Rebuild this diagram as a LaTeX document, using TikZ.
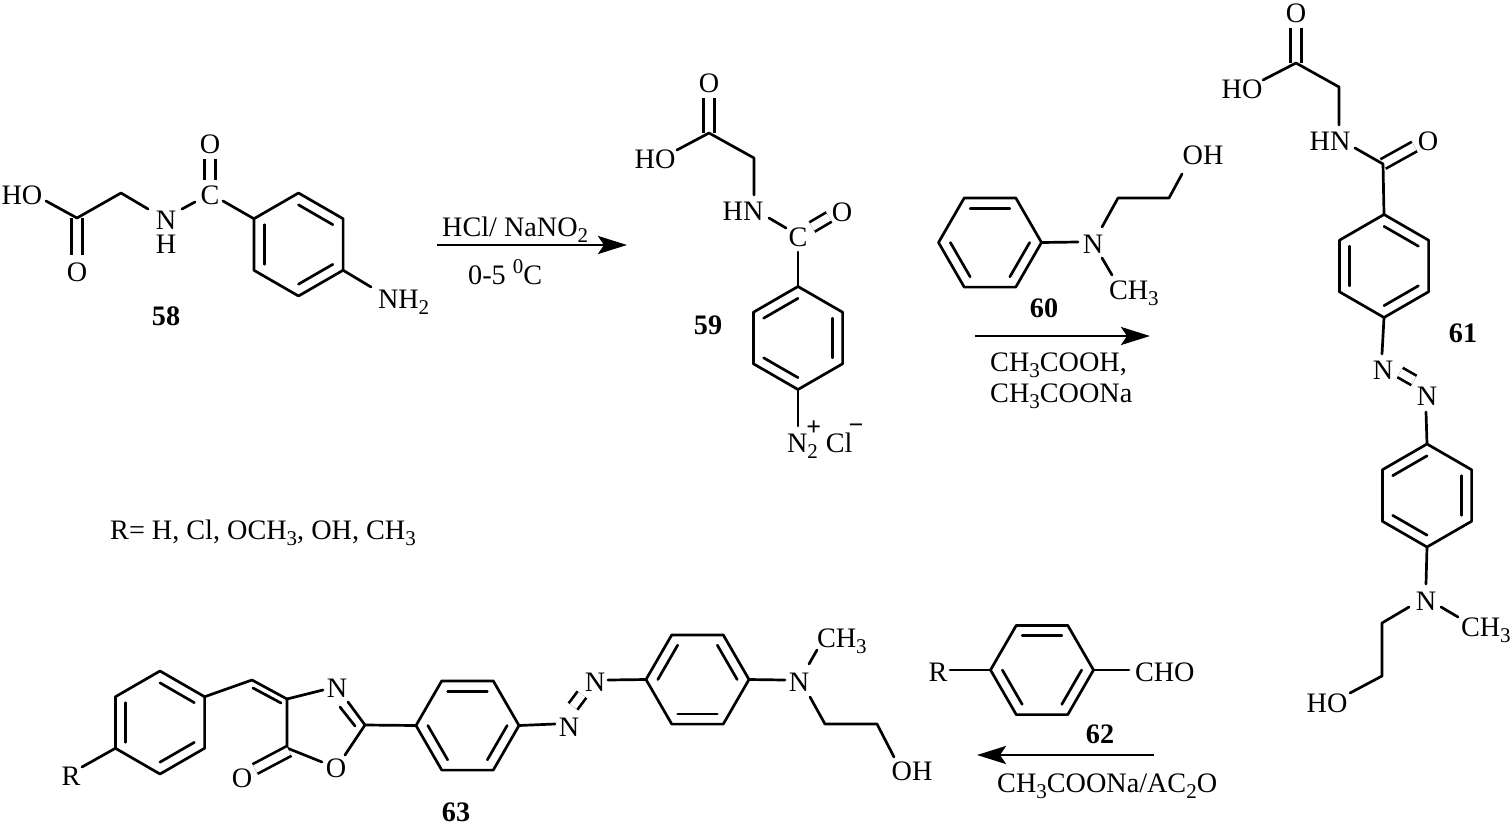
\documentclass[tikz,border=0pt]{standalone}
\usepackage{fontspec}
\setmainfont{Liberation Serif}
\usetikzlibrary{calc,arrows.meta}
\newcommand{\sbs}[1]{\raisebox{-6pt}{\fontsize{21}{21}\selectfont #1}}
\newcommand{\sps}[1]{\raisebox{11pt}{\fontsize{21}{21}\selectfont #1}}
% \hexring{name}{cx}{cy}{start angle}: six named vertices and a closed outline
\newcommand{\hexring}[4]{%
  \coordinate (#1c) at (#2,#3);
  \foreach \i in {1,...,6} {\coordinate (#1\i) at ($(#1c)+({#4+60*(\i-1)}:51.5)$);}
  \draw[bondline] (#11)--(#12)--(#13)--(#14)--(#15)--(#16)--cycle;}
% \inbond{ring}{i}{j}: inner line of an aromatic double bond
\newcommand{\inbond}[3]{\draw[bondline] ($(#1c)!0.77!(#1#2)$) -- ($(#1c)!0.77!(#1#3)$);}
\tikzset{
  x=1pt,y=-1pt,
  bondline/.style={line width=2.7pt,line cap=round,line join=round,black},
  dbl/.style={line width=2.7pt,double=white,double distance=8pt,black,line cap=butt},
  atom/.style={inner sep=0pt,outer sep=0pt,font=\fontsize{28.2}{28}\selectfont,text height=18.5pt,text depth=0pt},
  cmpd/.style={inner sep=0pt,font=\fontsize{28.2}{28}\selectfont\bfseries},
  reag/.style={inner sep=0pt,font=\fontsize{28.2}{28}\selectfont,text height=18.5pt,text depth=0pt,anchor=west},
  rxn/.style={line width=2.9pt,-{Stealth[length=29pt,width=18pt,inset=6pt]},black},
}
\begin{document}
\begin{tikzpicture}
\useasboundingbox (0,0) rectangle (1512,825);
%% ---------- 58 ----------
\node[atom] (aHO) at (22,195) {HO};
\node[atom] (aO1) at (77,272) {O};
\node[atom] (aN) at (166,220) {N};
\node[atom] (aH) at (166,244) {H};
\node[atom] (aC) at (210,195) {C};
\node[atom] (aO2) at (210,144) {O};
\node[atom,anchor=west] (aNH) at (378,299) {NH\sbs{2}};
\node[cmpd] (l58) at (166,316) {58};
\coordinate (aCa) at (77,218);
\coordinate (aCb) at (121,193);
\hexring{ar}{298.5}{244.5}{-90}
\inbond{ar}{1}{2}\inbond{ar}{3}{4}\inbond{ar}{5}{6}
\draw[dbl] (aCa) -- ($(aO1)+(0,-17)$);
\draw[dbl] ($(aC)+(0,-15)$) -- ($(aO2)+(0,15)$);
\draw[bondline] ($(aHO)+(24,6)$) -- (aCa) -- (aCb) -- ($(aN)+(-18,-11)$);
\draw[bondline] ($(aN)+(16,-11)$) -- ($(aC)+(-15,7)$);
\draw[bondline] ($(aC)+(13,6)$) -- (ar6);
\draw[bondline] (ar3) -- ($(aNH.west)+(-7,-12)$);
%% ---------- reaction 1 ----------
\coordinate (r1a) at (437,245);\coordinate (r1b) at (627,245);
\draw[rxn] (r1a) -- (r1b);
\node[reag] (r1t) at (442,227) {HCl/ NaNO\sbs{2}};
\node[reag] (r1u) at (468,275) {0-5 \sps{0}C};
%% ---------- 59 ----------
\node[atom] (bO1) at (709,83) {O};
\node[atom] (bHO) at (655,159) {HO};
\node[atom] (bHN) at (743,211) {HN};
\node[atom] (bC) at (798,237) {C};
\node[atom] (bO2) at (842,212) {O};
\node[atom,anchor=west] (bN) at (787,443) {N\rlap{\kern-1pt\raisebox{17pt}{\fontsize{26}{26}\selectfont\bfseries +}}\sbs{2}\kern8pt Cl\rlap{\kern-4pt\raisebox{19pt}{\fontsize{26}{26}\selectfont\bfseries −}}};
\node[cmpd] (l59) at (708,325) {59};
\coordinate (bCa) at (709,133);\coordinate (bCb) at (754,158);
\hexring{br}{798}{338}{-90}
\inbond{br}{6}{1}\inbond{br}{2}{3}\inbond{br}{4}{5}
\draw[dbl] (bCa) -- ($(bO1)+(0,15)$);
\draw[dbl] ($(bC)+(14,-10)$) -- ($(bO2)+(-13,5)$);
\draw[bondline] ($(bHO)+(22,-9)$) -- (bCa) -- (bCb) -- ($(bHN)+(11,-16)$);
\draw[bondline] ($(bHN)+(26,7)$) -- ($(bC)+(-12,-9)$);
\draw[bondline] ($(bC)+(0,15)$) -- (br1);
\draw[bondline] (br4) -- ($(bN.west)+(11,-17)$);
%% ---------- 60 ----------
\hexring{cr}{990}{242.5}{-60}
\inbond{cr}{6}{1}\inbond{cr}{2}{3}\inbond{cr}{4}{5}
\node[atom] (cN) at (1093,244) {N};
\node[atom] (cOH) at (1203,155) {OH};
\node[atom,anchor=west] (cM) at (1109,290) {CH\sbs{3}};
\node[cmpd] (l60) at (1044,308) {60};
\coordinate (cCa) at (1118,198);\coordinate (cCb) at (1169,198);
\draw[bondline] (cr2) -- ($(cN)+(-15,-2)$);
\draw[bondline] ($(cN)+(9,-17)$) -- (cCa) -- (cCb) -- ($(cOH)+(-21,19)$);
\draw[bondline] ($(cN)+(9,14)$) -- ($(cM.west)+(3,-15)$);
\coordinate (r2a) at (975,336);\coordinate (r2b) at (1150,336);
\draw[rxn] (r2a) -- (r2b);
\node[reag] (r2t) at (990,362) {CH\sbs{3}COOH,};
\node[reag] (r2u) at (990,393) {CH\sbs{3}COONa};
%% ---------- 61 ----------
\node[atom] (dO1) at (1296,13) {O};
\node[atom] (dHO) at (1242,89) {HO};
\node[atom] (dHN) at (1330,141) {HN};
\node[atom] (dO2) at (1428,141) {O};
\node[atom] (dN1) at (1383,370) {N};
\node[atom] (dN2) at (1427,396) {N};
\node[atom] (dN3) at (1426,601) {N};
\node[atom,anchor=west] (dM) at (1461,627) {CH\sbs{3}};
\node[atom] (dHO2) at (1327,703) {HO};
\node[cmpd] (l61) at (1463,333) {61};
\coordinate (dCa) at (1296,63);\coordinate (dCb) at (1339,87);\coordinate (dCc) at (1383,164);
\coordinate (dCd) at (1382,623);\coordinate (dCe) at (1382,676);
\hexring{dr}{1384}{266}{-90}
\inbond{dr}{1}{2}\inbond{dr}{3}{4}\inbond{dr}{5}{6}
\hexring{er}{1427}{495.5}{-90}
\inbond{er}{6}{1}\inbond{er}{2}{3}\inbond{er}{4}{5}
\draw[dbl] (dCa) -- ($(dO1)+(0,15)$);
\draw[dbl] (dCc) -- ($(dO2)+(-13.5,5.5)$);
\draw[dbl] ($(dN1)+(17,2.5)$) -- ($(dN2)+(-13,-15.5)$);
\draw[bondline] ($(dHO)+(21,-9)$) -- (dCa) -- (dCb) -- ($(dHN)+(9,-16)$);
\draw[bondline] ($(dHN)+(25,7)$) -- (dCc) -- (dr1);
\draw[bondline] (dr4) -- ($(dN1)+(-1,-16)$);
\draw[bondline] ($(dN2)+(-1,16)$) -- (er1);
\draw[bondline] (er4) -- ($(dN3)+(0,-17)$);
\draw[bondline] ($(dN3)+(15,6)$) -- ($(dM.west)+(-3,-10)$);
\draw[bondline] ($(dN3)+(-17,6)$) -- (dCd) -- (dCe) -- ($(dHO2)+(23,-10)$);
%% ---------- 62 ----------
\hexring{fr}{1042}{670}{-60}
\inbond{fr}{6}{1}\inbond{fr}{2}{3}\inbond{fr}{4}{5}
\node[atom] (fR) at (938,672) {R};
\node[atom,anchor=west] (fCHO) at (1135,672) {CHO};
\node[cmpd] (l62) at (1100,734) {62};
\draw[bondline] ($(fR)+(12,-2)$) -- (fr5);
\draw[bondline] (fr2) -- ($(fCHO.west)+(-6,-2)$);
\coordinate (r3a) at (1154,755);\coordinate (r3b) at (977,755);
\draw[rxn] (r3a) -- (r3b);
\node[reag] (r3t) at (997,783) {CH\sbs{3}COONa/AC\sbs{2}O};
%% ---------- R list ----------
\node[reag] (rlist) at (110,530) {R= H, Cl, OCH\sbs{3}, OH, CH\sbs{3}};
%% ---------- 63 ----------
\hexring{gr}{160}{722.5}{-90}
\inbond{gr}{1}{2}\inbond{gr}{3}{4}\inbond{gr}{5}{6}
\hexring{hr}{467.5}{725.5}{-60}
\inbond{hr}{6}{1}\inbond{hr}{2}{3}\inbond{hr}{4}{5}
\hexring{ir}{697.5}{679.5}{-60}
\inbond{ir}{5}{6}\inbond{ir}{1}{2}\inbond{ir}{3}{4}
\node[atom] (gR) at (71,776) {R};
\node[atom] (gO) at (242,778) {O};
\node[atom] (gOr) at (336,768) {O};
\node[atom] (gNr) at (337,688) {N};
\node[atom] (gN1) at (569,727) {N};
\node[atom] (gN2) at (595,682) {N};
\node[atom] (gN3) at (799,682) {N};
\node[atom,anchor=west] (gM) at (817,638) {CH\sbs{3}};
\node[atom] (gOH) at (912,771) {OH};
\node[cmpd] (l63) at (456,812) {63};
\coordinate (g1) at (252,680);\coordinate (g2) at (287,699);\coordinate (g3) at (287,748);
\coordinate (g4) at (365,725);
\coordinate (g5) at (825,724);\coordinate (g6) at (877,724);
\coordinate (g7) at (253,688);\coordinate (g8) at (281,703);
\coordinate (g9) at (340,707);\coordinate (g10) at (355,726);
\draw[bondline] ($(gR)+(11,-9)$) -- (gr5);
\draw[bondline] (gr2) -- (g1) -- (g2) -- (g3);
\draw[bondline] (g7) -- (g8);
\draw[bondline] (g2) -- ($(gNr)+(-14,2)$);
\draw[bondline] ($(gNr)+(11,14)$) -- (g4) -- ($(gOr)+(9,-13)$);
\draw[bondline] (g9) -- (g10);
\draw[bondline] ($(gOr)+(-14,-6)$) -- (g3);
\draw[dbl] ($(g3)+(2,3)$) -- ($(gO)+(13,-9)$);
\draw[bondline] (g4) -- (hr5);
\draw[bondline] (hr2) -- ($(gN1)+(-14,-3)$);
\draw[dbl] ($(gN1)+(4,-20.5)$) -- ($(gN2)+(-13,12.5)$);
\draw[bondline] ($(gN2)+(13,-2)$) -- (ir5);
\draw[bondline] (ir2) -- ($(gN3)+(-14,-2)$);
\draw[bondline] ($(gN3)+(10,-18)$) -- ($(gM.west)+(0,12)$);
\draw[bondline] ($(gN3)+(11,15)$) -- (g5) -- (g6) -- ($(gOH)+(-18,-14)$);
\end{tikzpicture}
\end{document}
